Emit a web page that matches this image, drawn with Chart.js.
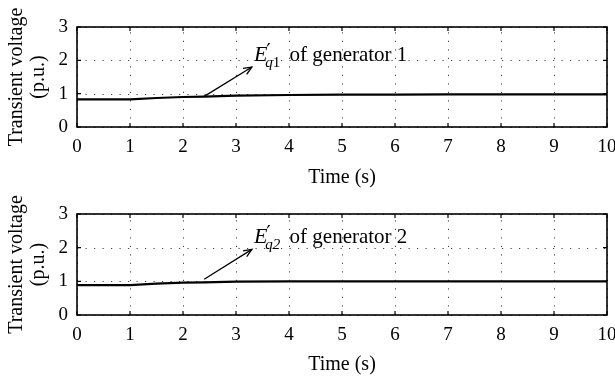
<!DOCTYPE html>
<html>
<head>
<meta charset="utf-8">
<script src="https://cdn.jsdelivr.net/npm/chart.js@4.4.0/dist/chart.umd.min.js"></script>
<style>
  html, body { margin: 0; padding: 0; background: #fff; }
  .box { position: relative; width: 615px; }
</style>
</head>
<body>
<div class="box" style="height:190px"><canvas id="gen1"></canvas></div>
<div class="box" style="height:187px"><canvas id="gen2"></canvas></div>
<script>
// values
const timeS = [0, 0.5, 1, 1.5, 2, 2.4, 3, 4, 5, 6, 7, 8, 9, 10];
const eq1 = [0.83, 0.83, 0.83, 0.87, 0.90, 0.91, 0.94, 0.96, 0.97, 0.97, 0.98, 0.98, 0.98, 0.98];
const eq2 = [0.89, 0.89, 0.89, 0.93, 0.96, 0.97, 0.99, 1.00, 1.00, 1.00, 1.00, 1.00, 1.00, 1.00];
const xTicks = [0, 1, 2, 3, 4, 5, 6, 7, 8, 9, 10];
const yTicks = [0, 1, 2, 3];
// arrow [tail, head] in data units
const arrow1 = [[2.4, 0.92], [3.3, 1.8]];
const arrow2 = [[2.4, 1.06], [3.3, 1.95]];

const serif = "'Liberation Serif', 'DejaVu Serif', serif";

const framePlugin = {
  id: 'frame',
  beforeDatasetsDraw(chart) {
    const { ctx, chartArea: a, scales: { x, y } } = chart;
    ctx.save();
    ctx.strokeStyle = '#444';
    ctx.lineWidth = 1;
    ctx.setLineDash([1.2, 7.3]);
    xTicks.forEach(v => {
      const px = Math.round(x.getPixelForValue(v)) + 0.5;
      ctx.beginPath(); ctx.moveTo(px, a.bottom); ctx.lineTo(px, a.top); ctx.stroke();
    });
    yTicks.forEach(v => {
      const py = Math.round(y.getPixelForValue(v)) + 0.5;
      ctx.beginPath(); ctx.moveTo(a.left, py); ctx.lineTo(a.right, py); ctx.stroke();
    });
    ctx.restore();
  },
  afterDraw(chart) {
    const { ctx, chartArea: a, scales: { x, y } } = chart;
    const opt = chart.options.plugins.frame;
    ctx.save();
    ctx.strokeStyle = '#000';
    ctx.lineWidth = 1.6;
    ctx.strokeRect(a.left, a.top, a.right - a.left, a.bottom - a.top);
    ctx.lineWidth = 1.2;
    const t = 4;
    xTicks.forEach(v => {
      const px = x.getPixelForValue(v);
      ctx.beginPath();
      ctx.moveTo(px, a.bottom); ctx.lineTo(px, a.bottom - t);
      ctx.moveTo(px, a.top); ctx.lineTo(px, a.top + t);
      ctx.stroke();
    });
    yTicks.forEach(v => {
      const py = y.getPixelForValue(v);
      ctx.beginPath();
      ctx.moveTo(a.left, py); ctx.lineTo(a.left + t, py);
      ctx.moveTo(a.right, py); ctx.lineTo(a.right - t, py);
      ctx.stroke();
    });

    // arrow
    const [tail, head] = opt.arrow;
    const x0 = x.getPixelForValue(tail[0]), y0 = y.getPixelForValue(tail[1]);
    const x1 = x.getPixelForValue(head[0]), y1 = y.getPixelForValue(head[1]);
    ctx.lineWidth = 1.3;
    ctx.beginPath(); ctx.moveTo(x0, y0); ctx.lineTo(x1, y1); ctx.stroke();
    const ang = Math.atan2(y1 - y0, x1 - x0);
    const hl = 9;
    ctx.beginPath();
    ctx.moveTo(x1 - hl * Math.cos(ang - 0.4), y1 - hl * Math.sin(ang - 0.4));
    ctx.lineTo(x1, y1);
    ctx.lineTo(x1 - hl * Math.cos(ang + 0.4), y1 - hl * Math.sin(ang + 0.4));
    ctx.stroke();

    // label
    ctx.fillStyle = '#000';
    ctx.textBaseline = 'alphabetic';
    const tx = x1 + 2, ty = y1 - 6;
    ctx.font = "italic 22px " + serif;
    ctx.fillText('E', tx, ty);
    const ew = ctx.measureText('E').width;
    ctx.font = "20px 'DejaVu Sans', sans-serif";
    ctx.fillText('\u2032', tx + ew - 1, ty - 4);
    ctx.font = "italic 15px " + serif;
    ctx.fillText('q', tx + ew - 2, ty + 6);
    const qw = ctx.measureText('q').width;
    ctx.font = (opt.sub === '2' ? "italic " : "") + "15px " + serif;
    ctx.fillText(opt.sub, tx + ew - 2 + qw, ty + 6);
    const sw = ctx.measureText(opt.sub).width;
    ctx.font = "21px " + serif;
    ctx.fillText(' of generator ' + opt.sub, tx + ew - 2 + qw + sw + 4, ty);
    ctx.restore();
  }
};

function makeChart(id, values, arrow, sub, topPad, xHeight) {
  new Chart(document.getElementById(id), {
    type: 'line',
    data: {
      datasets: [{
        data: timeS.map((t, i) => ({ x: t, y: values[i] })),
        borderColor: '#000',
        borderWidth: 2.2,
        pointRadius: 0,
        tension: 0,
        fill: false
      }]
    },
    options: {
      responsive: true,
      maintainAspectRatio: false,
      animation: false,
      layout: { padding: { top: topPad, right: 8, left: 0, bottom: 0 } },
      plugins: {
        legend: { display: false },
        tooltip: { enabled: false },
        frame: { arrow: arrow, sub: sub }
      },
      scales: {
        x: {
          type: 'linear',
          min: 0, max: 10,
          grid: { display: false, drawTicks: false },
          border: { display: false },
          afterFit: s => { s.height = xHeight; s.paddingLeft = 0; s.paddingRight = 0; },
          afterBuildTicks: s => { s.ticks = xTicks.map(v => ({ value: v })); },
          ticks: { color: '#000', padding: 9, maxRotation: 0, autoSkip: false, font: { family: serif, size: 19 } },
          title: { display: true, text: 'Time (s)', color: '#000', padding: { top: 0, bottom: 0 }, font: { family: serif, size: 20 } }
        },
        y: {
          min: 0, max: 3,
          grid: { display: false, drawTicks: false },
          border: { display: false },
          afterFit: s => { s.width = 77; s.paddingTop = 0; s.paddingBottom = 0; },
          afterBuildTicks: s => { s.ticks = yTicks.map(v => ({ value: v })); },
          ticks: { color: '#000', padding: 9, font: { family: serif, size: 19 } },
          title: { display: true, text: ['Transient voltage', '(p.u.)'], color: '#000', padding: { top: 6, bottom: 0 }, font: { family: serif, size: 20, lineHeight: 1.08 } }
        }
      }
    },
    plugins: [framePlugin]
  });
}

makeChart('gen1', eq1, arrow1, '1', 27, 63);
makeChart('gen2', eq2, arrow2, '2', 24, 62);
</script>
</body>
</html>
